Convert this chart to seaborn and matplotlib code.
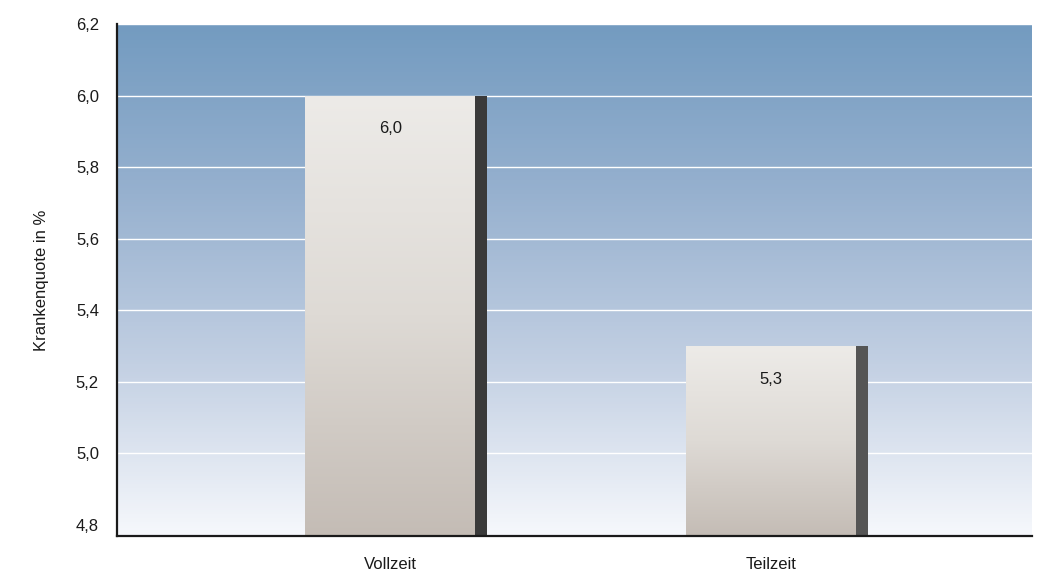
import numpy as np
import pandas as pd
import matplotlib
matplotlib.use("Agg")
import matplotlib.pyplot as plt
import seaborn as sns
from matplotlib.colors import LinearSegmentedColormap

categories = ["Vollzeit", "Teilzeit"]
values = [6.0, 5.3]
value_labels = ["6,0", "5,3"]
y_ticks = [4.8, 5.0, 5.2, 5.4, 5.6, 5.8, 6.0, 6.2]
y_tick_labels = ["4,8", "5,0", "5,2", "5,4", "5,6", "5,8", "6,0", "6,2"]
shadow_colors = ["#3a3a3a", "#555555"]

df = pd.DataFrame({"Art": categories, "Quote": values})

sns.set_style("white")
plt.rcParams["font.family"] = ["Liberation Sans", "DejaVu Sans"]

fig = plt.figure(figsize=(10.47, 5.72), dpi=100)
ax = fig.add_axes([117 / 1047, 36 / 572, 915 / 1047, 512 / 572])

sns.barplot(data=df, x="Art", y="Quote", ax=ax, width=0.446, color="#e0dcd7",
            edgecolor="none", linewidth=0, zorder=3)

XLIM = (-0.717, 1.685)
YLIM = (4.769, 6.2)
ax.set_xlim(*XLIM)
ax.set_ylim(*YLIM)

# background gradient
bg_cmap = LinearSegmentedColormap.from_list("bg", ["#f6f8fc", "#c3d0e3", "#97b1cf", "#739bc0"])
grad = np.linspace(0, 1, 256).reshape(-1, 1)
ax.imshow(grad, cmap=bg_cmap, aspect="auto", origin="lower",
          extent=(XLIM[0], XLIM[1], YLIM[0], YLIM[1]), zorder=0)

# bar gradients + right shadow strip
bar_cmap = LinearSegmentedColormap.from_list("bar", ["#c4bcb5", "#dedad5", "#edebe8"])
for patch, col in zip(list(ax.patches), shadow_colors):
    x0, w = patch.get_x(), patch.get_width()
    top = patch.get_height()
    img = ax.imshow(grad, cmap=bar_cmap, aspect="auto", origin="lower",
                    extent=(x0, x0 + w, YLIM[0], top), zorder=3)
    img.set_clip_path(patch)
    ax.bar(x0 + w, top - YLIM[0], bottom=YLIM[0], width=0.031, align="edge",
           color=col, edgecolor="none", linewidth=0, zorder=3)

for patch, lab in zip(ax.patches[:2], value_labels):
    ax.annotate(lab, (patch.get_x() + patch.get_width() / 2, patch.get_height()),
                xytext=(0, -24), textcoords="offset points", ha="center", va="center",
                fontsize=12, color="#1a1a1a", zorder=5)

ax.set_xlim(*XLIM)
ax.set_ylim(*YLIM)
ax.set_yticks(y_ticks)
ax.set_yticklabels(y_tick_labels)
ax.yaxis.grid(True, color="white", linewidth=1.0, zorder=1)
ax.set_axisbelow(False)
gridlines = ax.get_ygridlines()
for gl in gridlines:
    gl.set_zorder(1)
gridlines[0].set_visible(False)  # no line at 4,8
ax.tick_params(axis="both", length=0, labelsize=12, colors="#1a1a1a")
ax.tick_params(axis="y", pad=13)
ax.tick_params(axis="x", pad=15)
ax.set_xlabel("")
ax.set_ylabel("Krankenquote in %", fontsize=12, color="#1a1a1a", labelpad=19)

for side in ["top", "right"]:
    ax.spines[side].set_visible(False)
for side in ["left", "bottom"]:
    ax.spines[side].set_color("#1a1a1a")
    ax.spines[side].set_linewidth(1.6)
    ax.spines[side].set_zorder(6)

fig.savefig("out.png", dpi=100)
